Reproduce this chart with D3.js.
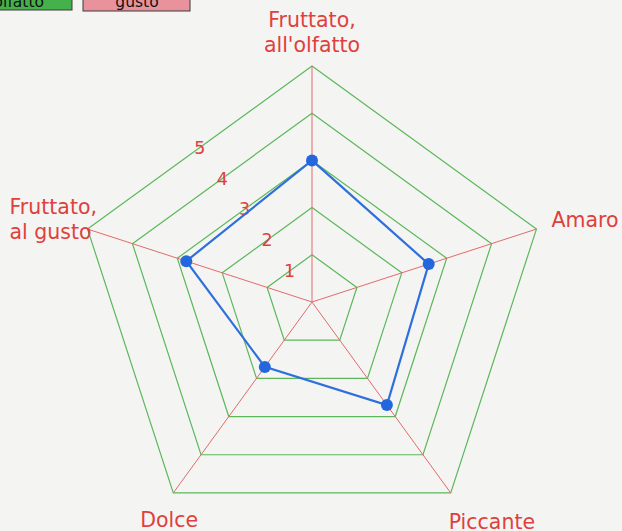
<!DOCTYPE html>
<html>
<head>
<meta charset="utf-8">
<script src="https://d3js.org/d3.v7.min.js"></script>
<style>
  html, body { margin: 0; padding: 0; background: #f4f4f3; }
  svg { display: block; }
  text { font-family: "DejaVu Sans", Verdana, sans-serif; }
</style>
</head>
<body>
<div id="chart"></div>
<script>
// chart data
var axes = ["Fruttato, all'olfatto", "Amaro", "Piccante", "Dolce", "Fruttato, al gusto"];
var values = [3, 2.6, 2.7, 1.7, 2.8];
var levels = [1, 2, 3, 4, 5];
var legendLabels = ["all'olfatto", "gusto"];

var width = 622, height = 531;
var cx = 312, cy = 302;

var svg = d3.select("#chart").append("svg")
    .attr("width", width)
    .attr("height", height);

var g = svg.append("g").attr("transform", "translate(" + cx + "," + cy + ")");

// radius + angle scales
var r = d3.scaleLinear().domain([0, 5]).range([0, 236]);
var angle = d3.scaleLinear().domain([0, axes.length]).range([0, 2 * Math.PI]);

function pt(i, v) {
  var a = angle(i);
  return [r(v) * Math.sin(a), -r(v) * Math.cos(a)];
}

// green rings
g.selectAll(".ring")
  .data(levels)
  .enter().append("polygon")
  .attr("points", function(l) { return axes.map(function(d, i) { return pt(i, l).join(","); }).join(" "); })
  .attr("fill", "none")
  .attr("stroke", "#5cb85a")
  .attr("stroke-width", 1.2);

// red spokes
g.selectAll(".spoke")
  .data(axes)
  .enter().append("line")
  .attr("x1", 0).attr("y1", 0)
  .attr("x2", function(d, i) { return pt(i, 5)[0]; })
  .attr("y2", function(d, i) { return pt(i, 5)[1]; })
  .attr("stroke", "#e26a6a")
  .attr("stroke-width", 1);

// level numbers, at the middle of each ring's upper-left edge
g.selectAll(".lvl")
  .data(levels)
  .enter().append("text")
  .attr("x", function(l) { return (pt(4, l)[0] + pt(0, l)[0]) / 2; })
  .attr("y", function(l) { return (pt(4, l)[1] + pt(0, l)[1]) / 2; })
  .attr("dy", "0.35em")
  .attr("text-anchor", "middle")
  .attr("fill", "#e0403c")
  .style("font-size", "17.5px")
  .text(function(l) { return l; });

// data polygon
var line = d3.line().curve(d3.curveLinearClosed);
g.append("path")
  .attr("d", line(values.map(function(v, i) { return pt(i, v); })))
  .attr("fill", "none")
  .attr("stroke", "#2f6fdc")
  .attr("stroke-width", 2.2);

g.selectAll(".dot")
  .data(values)
  .enter().append("circle")
  .attr("cx", function(v, i) { return pt(i, v)[0]; })
  .attr("cy", function(v, i) { return pt(i, v)[1]; })
  .attr("r", 6)
  .attr("fill", "#2466dc");

// axis labels (offsets from the outer vertex)
var labelLayout = [
  {dx: 0, dy: -39, anchor: "middle"},
  {dx: 15, dy: -2, anchor: "start"},
  {dx: -2, dy: 36, anchor: "start"},
  {dx: -33, dy: 34, anchor: "start"},
  {dx: -78, dy: -15, anchor: "start"}
];
axes.forEach(function(name, i) {
  var p = pt(i, 5), lay = labelLayout[i];
  var lines = name.indexOf(", ") > 0 ? [name.split(", ")[0] + ",", name.split(", ")[1]] : [name];
  var t = g.append("text")
    .attr("x", p[0] + lay.dx)
    .attr("y", p[1] + lay.dy)
    .attr("text-anchor", lay.anchor)
    .attr("fill", "#e0403c")
    .style("font-size", "20.5px");
  lines.forEach(function(s, k) {
    t.append("tspan").attr("x", p[0] + lay.dx).attr("dy", k === 0 ? 0 : 25).text(s);
  });
});

// legend boxes (cut off at top of page)
var legend = svg.append("g");
legend.append("rect").attr("x", -40).attr("y", -30).attr("width", 112).attr("height", 40)
  .attr("fill", "#46b04a").attr("stroke", "#3a3a3a").attr("stroke-width", 1);
legend.append("text").attr("x", 44).attr("y", 7).attr("text-anchor", "end")
  .style("font-size", "15.5px").attr("fill", "#111").text(legendLabels[0]);
legend.append("rect").attr("x", 83).attr("y", -30).attr("width", 107).attr("height", 41)
  .attr("fill", "#e8939b").attr("stroke", "#3a3a3a").attr("stroke-width", 1);
legend.append("text").attr("x", 137).attr("y", 7).attr("text-anchor", "middle")
  .style("font-size", "15.5px").attr("fill", "#111").text(legendLabels[1]);
</script>
</body>
</html>
